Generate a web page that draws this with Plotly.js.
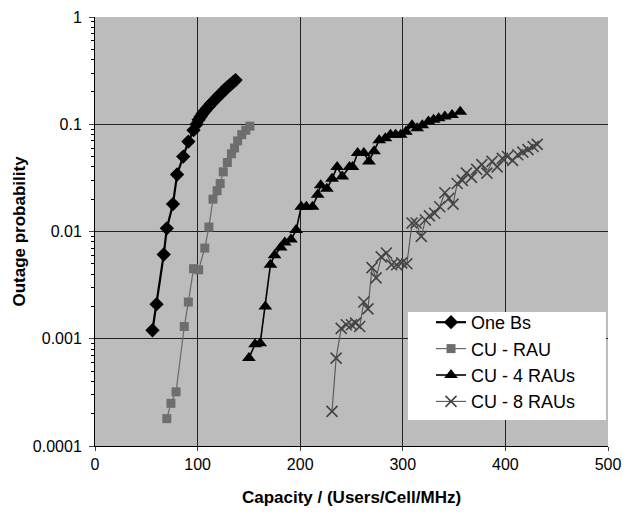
<!DOCTYPE html>
<html>
<head>
<meta charset="utf-8">
<script src="https://cdn.plot.ly/plotly-3.0.1.min.js"></script>
<style>html,body{margin:0;padding:0;background:#fff;}#chart{width:632px;height:515px;}</style>
</head>
<body>
<div id="chart"></div>
<script>
// One Bs
const oneBsX = [56, 60, 67, 70, 76, 80, 86, 91, 96, 99, 101, 103, 105, 107, 109, 111, 113, 115, 117, 119, 121, 123, 125, 127, 129, 131, 133, 135, 137];
const oneBsY = [0.0012, 0.0021, 0.0061, 0.0107, 0.018, 0.034, 0.050, 0.069, 0.088, 0.10, 0.11, 0.118, 0.126, 0.133, 0.14, 0.147, 0.155, 0.162, 0.17, 0.178, 0.186, 0.194, 0.203, 0.212, 0.222, 0.23, 0.238, 0.248, 0.258];
// CU - RAU
const cuRauX = [70, 74, 79, 87, 91, 96, 101, 107, 111, 115, 119, 122, 125, 129, 133, 136, 139, 143, 147, 151];
const cuRauY = [0.00018, 0.00025, 0.00032, 0.0013, 0.0022, 0.0045, 0.0044, 0.007, 0.011, 0.02, 0.024, 0.028, 0.036, 0.044, 0.053, 0.06, 0.07, 0.08, 0.088, 0.096];
// CU - 4 RAUs
const cu4X = [150, 156, 161, 166, 171, 175, 181, 185, 191, 196, 201, 206, 212, 217, 220, 226, 231, 236, 241, 248, 251, 256, 262, 267, 272, 277, 283, 288, 293, 298, 303, 309, 314, 319, 325, 330, 335, 341, 348, 356];
const cu4Y = [0.00066, 0.00089, 0.00091, 0.0020, 0.0049, 0.006, 0.0071, 0.0079, 0.0084, 0.0103, 0.017, 0.017, 0.017, 0.022, 0.027, 0.025, 0.031, 0.040, 0.0325, 0.040, 0.040, 0.054, 0.054, 0.045, 0.056, 0.071, 0.074, 0.080, 0.080, 0.080, 0.085, 0.098, 0.092, 0.098, 0.106, 0.11, 0.114, 0.118, 0.122, 0.131];
// CU - 8 RAUs
const cu8X = [231, 235, 240, 245, 250, 254, 258, 262, 266, 270, 274, 279, 284, 289, 294, 299, 304, 309, 313, 318, 322, 326, 331, 336, 341, 345, 349, 353, 358, 362, 367, 372, 377, 382, 387, 392, 397, 402, 407, 412, 417, 422, 427, 431];
const cu8Y = [0.00021, 0.00066, 0.00125, 0.00135, 0.00135, 0.0014, 0.0013, 0.0022, 0.0019, 0.0046, 0.0037, 0.0058, 0.0063, 0.0049, 0.0049, 0.0051, 0.005, 0.012, 0.012, 0.009, 0.0128, 0.014, 0.0148, 0.017, 0.023, 0.0204, 0.018, 0.028, 0.030, 0.035, 0.032, 0.038, 0.042, 0.035, 0.045, 0.040, 0.048, 0.050, 0.046, 0.052, 0.055, 0.058, 0.062, 0.065];

const yTickVals = [0.0001, 0.001, 0.01, 0.1, 1];
const yTickText = ["0.0001", "0.001", "0.01", "0.1", "1"];
const xTickVals = [0, 100, 200, 300, 400, 500];

const traces = [
  {x: oneBsX, y: oneBsY, name: "One Bs", mode: "lines+markers",
   line: {color: "#000", width: 2.2},
   marker: {symbol: "diamond", size: 11, color: "#000"}},
  {x: cuRauX, y: cuRauY, name: "CU - RAU", mode: "lines+markers",
   line: {color: "#6a6a6a", width: 1.2},
   marker: {symbol: "square", size: 9, color: "#6e6e6e"}},
  {x: cu4X, y: cu4Y, name: "CU - 4 RAUs", mode: "lines+markers",
   line: {color: "#000", width: 1.6},
   marker: {symbol: "triangle-up", size: 12, color: "#000"}},
  {x: cu8X, y: cu8Y, name: "CU - 8 RAUs", mode: "lines+markers",
   line: {color: "#555", width: 1.1},
   marker: {symbol: "x-thin-open", size: 11, color: "#444", line: {width: 1.6, color: "#444"}}}
];

const font = "Liberation Sans, Arial, sans-serif";
const layout = {
  width: 632, height: 515,
  margin: {l: 95, r: 24, t: 17, b: 69},
  paper_bgcolor: "#fff",
  plot_bgcolor: "#bcbcbc",
  font: {family: font, size: 16, color: "#000"},
  showlegend: true,
  legend: {x: 0.655, y: 0.331, xanchor: "left", yanchor: "top",
    bgcolor: "rgba(0,0,0,0)", borderwidth: 0, font: {family: font, size: 18, color: "#000"},
    tracegroupgap: 0},
  shapes: [
    {type: "rect", xref: "paper", yref: "paper", x0: 0.610, x1: 0.996, y0: 0.0606, y1: 0.3124,
     fillcolor: "#fff", line: {width: 0}, layer: "above"}
  ],
  xaxis: {range: [0, 500], tickvals: xTickVals, ticks: "outside", ticklen: 4,
    showgrid: true, gridcolor: "#222", gridwidth: 1, zeroline: false,
    showline: true, linecolor: "#000", linewidth: 1, mirror: false,
    tickfont: {size: 16},
    title: {text: "<b>Capacity / (Users/Cell/MHz)</b>", font: {size: 17}, standoff: 18}},
  yaxis: {type: "log", range: [-4, 0], tickvals: yTickVals, ticktext: yTickText,
    ticks: "outside", ticklen: 5, showgrid: true, gridcolor: "#222", gridwidth: 1,
    zeroline: false, showline: true, linecolor: "#000", linewidth: 1,
    ticklabelstandoff: 4,
    minor: {ticks: "outside", ticklen: 3, dtick: "D1", showgrid: false, tickcolor: "#000"},
    tickfont: {size: 16},
    title: {text: "<b>Outage probability</b>", font: {size: 17}, standoff: 2}}
};

Plotly.newPlot("chart", traces, layout, {staticPlot: true, displayModeBar: false});
</script>
</body>
</html>
